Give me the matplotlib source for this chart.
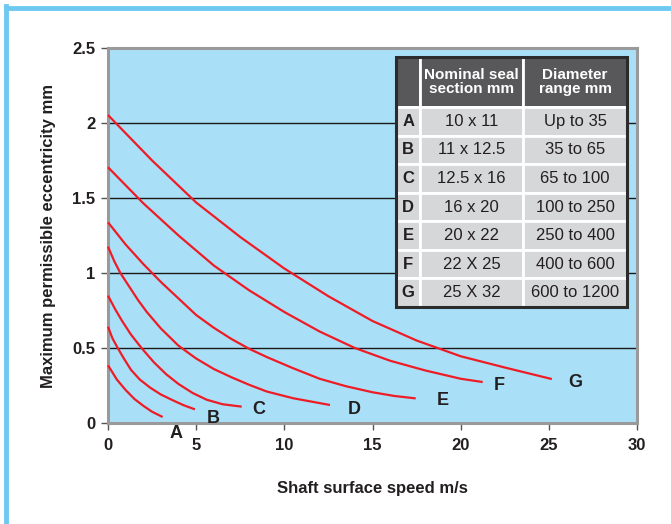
import matplotlib.pyplot as plt
from matplotlib.lines import Line2D

# curve data (shaft speed m/s, eccentricity mm)
a_x = [0, 0.5, 1.0, 1.5, 2.0, 2.5, 3.1]
a_y = [0.385, 0.29, 0.22, 0.16, 0.115, 0.075, 0.04]
b_x = [0, 0.25, 0.55, 0.9, 1.3, 1.8, 2.4, 3.0, 3.7, 4.3, 4.93]
b_y = [0.642, 0.565, 0.5, 0.43, 0.355, 0.29, 0.235, 0.19, 0.15, 0.118, 0.091]
c_x = [0, 0.4, 0.8, 1.3, 1.9, 2.6, 3.3, 4.0, 4.8, 5.6, 6.5, 7.58]
c_y = [0.849, 0.76, 0.68, 0.59, 0.5, 0.405, 0.325, 0.26, 0.2, 0.155, 0.125, 0.109]
d_x = [0, 0.35, 0.7, 1.2, 1.7, 2.2, 3.0, 4.0, 5.0, 6.0, 7.0, 8.0, 9.0, 10.5, 12.59]
d_y = [1.176, 1.08, 1.0, 0.91, 0.82, 0.74, 0.63, 0.515, 0.43, 0.36, 0.305, 0.255, 0.21, 0.165, 0.12]
e_x = [0, 1, 2, 3, 4, 5, 6, 7, 8, 9, 10.5, 12, 13.5, 15, 16.25, 17.45]
e_y = [1.338, 1.19, 1.06, 0.94, 0.83, 0.72, 0.635, 0.56, 0.495, 0.44, 0.365, 0.295, 0.245, 0.205, 0.18, 0.164]
f_x = [0, 2, 4, 6, 8, 10, 12, 14, 16, 18, 20, 21.25]
f_y = [1.705, 1.465, 1.25, 1.05, 0.885, 0.74, 0.61, 0.5, 0.415, 0.35, 0.295, 0.273]
g_x = [0, 2.5, 5, 7.5, 10, 12.5, 15, 17.5, 20, 22.5, 25.17]
g_y = [2.053, 1.75, 1.47, 1.24, 1.03, 0.845, 0.68, 0.55, 0.445, 0.37, 0.293]

letters = ['A', 'B', 'C', 'D', 'E', 'F', 'G']
label_pos = [(3.85, -0.07), (5.95, 0.03), (8.55, 0.09), (13.95, 0.09),
             (19.0, 0.15), (22.2, 0.25), (26.5, 0.27)]
seal_section = ['10 x 11', '11 x 12.5', '12.5 x 16', '16 x 20', '20 x 22', '22 X 25', '25 X 32']
diameter_range = ['Up to 35', '35 to 65', '65 to 100', '100 to 250', '250 to 400', '400 to 600', '600 to 1200']

curves = [(a_x, a_y), (b_x, b_y), (c_x, c_y), (d_x, d_y), (e_x, e_y), (f_x, f_y), (g_x, g_y)]

plt.rcParams['font.family'] = ['Liberation Sans', 'DejaVu Sans']

fig = plt.figure(figsize=(6.71, 5.24), dpi=100)
ax = fig.add_axes([108/671, 1 - 423/524, 529/671, 375/524])
ax.set_facecolor('#aadff8')

# light blue frame round the figure
fig.add_artist(Line2D([6/671, 6/671], [0, 1 - 6/524], color='#6ec8f0', lw=3.5))
fig.add_artist(Line2D([6/671, 1], [1 - 8/524, 1 - 8/524], color='#6ec8f0', lw=3.5))

for yv in [0.5, 1, 1.5, 2]:
    ax.axhline(yv, color='#1a1a1a', lw=1.0, zorder=1)

for x, y in curves:
    ax.plot(x, y, color='#ee1c25', lw=1.6, zorder=3, clip_on=False,
            solid_joinstyle='round', solid_capstyle='butt')

for lab, (lx, ly) in zip(letters, label_pos):
    ax.text(lx, ly, lab, fontsize=13, fontweight='bold', color='#231f20',
            ha='center', va='center', zorder=4, clip_on=False)

ax.set_xlim(0, 30)
ax.set_ylim(0, 2.5)
ax.set_xticks([0, 5, 10, 15, 20, 25, 30])
ax.set_yticks([0, 0.5, 1, 1.5, 2, 2.5])
ax.set_yticklabels(['0', '0.5', '1', '1.5', '2', '2.5'])
for sp in ax.spines.values():
    sp.set_color('#9a9a9a')
    sp.set_linewidth(2.2)
ax.tick_params(axis='both', direction='out', length=5, width=1, color='#555555',
               labelsize=12, labelcolor='#231f20')
ax.tick_params(axis='x', pad=6)
ax.tick_params(axis='y', pad=4)
for t in ax.get_xticklabels() + ax.get_yticklabels():
    t.set_fontweight('bold')

ax.set_xlabel('Shaft surface speed m/s', fontsize=12, fontweight='bold', color='#231f20', labelpad=20)
ax.set_ylabel('Maximum permissible eccentricity mm', fontsize=12, fontweight='bold', color='#231f20', labelpad=12)

# table of seal sizes
cell_text = [['', 'Nominal seal\nsection mm', 'Diameter\nrange mm']]
for i in range(len(letters)):
    cell_text.append([letters[i], seal_section[i], diameter_range[i]])

tbl = ax.table(cellText=cell_text, colWidths=[24, 102, 103], cellLoc='center',
               bbox=[288/529, 116/375, 231/529, 250/375], zorder=5)
tbl.auto_set_font_size(False)
for (r, c), cell in tbl.get_celld().items():
    cell.set_edgecolor('white')
    cell.set_linewidth(2)
    cell.set_height(1.75 if r == 0 else 1.0)
    txt = cell.get_text()
    if r == 0:
        cell.set_facecolor('#58585a')
        txt.set_color('white')
        txt.set_fontweight('bold')
        txt.set_fontsize(11)
        txt.set_linespacing(1.0)
    else:
        cell.set_facecolor('#d6d7d9')
        txt.set_color('#231f20')
        txt.set_fontsize(12)
        if c == 0:
            txt.set_fontweight('bold')

# dark outline round the table
ax.add_patch(plt.Rectangle((288/529, 116/375), 231/529, 250/375, transform=ax.transAxes,
                           fill=False, edgecolor='#2b2b2b', lw=2.2, zorder=6, clip_on=False))

fig.savefig('out.png', dpi=100)
